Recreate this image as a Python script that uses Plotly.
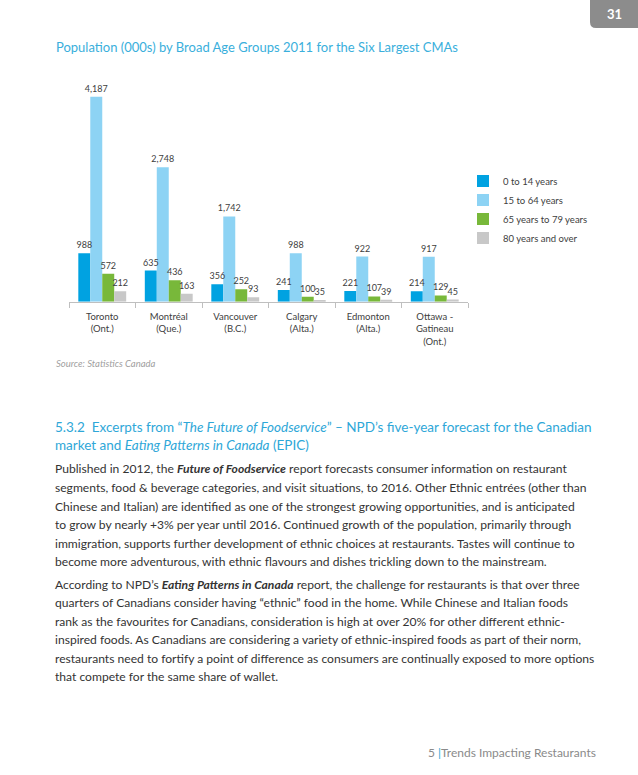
import plotly.graph_objects as go

W, H = 638, 775

categories = ["Toronto<br>(Ont.)", "Montréal<br>(Que.)", "Vancouver<br>(B.C.)",
              "Calgary<br>(Alta.)", "Edmonton<br>(Alta.)", "Ottawa -<br>Gatineau<br>(Ont.)"]
series_names = ["0 to 14 years", "15 to 64 years", "65 years to 79 years", "80 years and over"]
age_0_14 = [988, 635, 356, 241, 221, 214]
age_15_64 = [4187, 2748, 1742, 988, 922, 917]
age_65_79 = [572, 436, 252, 100, 107, 129]
age_80_plus = [212, 163, 93, 35, 39, 45]
series_values = [age_0_14, age_15_64, age_65_79, age_80_plus]
series_colors = ["#00A2E1", "#8DD3F4", "#78B83A", "#C8C8C8"]

title_text = "Population (000s) by Broad Age Groups 2011 for the Six Largest CMAs"
source_text = "Source: Statistics Canada"
heading_lines = [
    "5.3.2  Excerpts from “<i>The Future of Foodservice</i>” – NPD’s five-year forecast for the Canadian",
    "market and <i>Eating Patterns in Canada</i> (EPIC)",
]
body_lines = [
    "Published in 2012, the <b><i>Future of Foodservice</i></b> report forecasts consumer information on restaurant",
    "segments, food &amp; beverage categories, and visit situations, to 2016. Other Ethnic entrées (other than",
    "Chinese and Italian) are identified as one of the strongest growing opportunities, and is anticipated",
    "to grow by nearly +3% per year until 2016. Continued growth of the population, primarily through",
    "immigration, supports further development of ethnic choices at restaurants. Tastes will continue to",
    "become more adventurous, with ethnic flavours and dishes trickling down to the mainstream.",
    "According to NPD’s <b><i>Eating Patterns in Canada</i></b> report, the challenge for restaurants is that over three",
    "quarters of Canadians consider having “ethnic” food in the home. While Chinese and Italian foods",
    "rank as the favourites for Canadians, consideration is high at over 20% for other different ethnic-",
    "inspired foods. As Canadians are considering a variety of ethnic-inspired foods as part of their norm,",
    "restaurants need to fortify a point of difference as consumers are continually exposed to more options",
    "that compete for the same share of wallet.",
]
body_y = [469, 487.5, 506, 524.5, 543, 561.5, 584, 602.5, 621, 639.5, 658, 676.5]

FONT = "Lato"


def px(x):
    return x / W


def py(y):
    return 1 - y / H


fig = go.Figure()
# visible bars
for i, (name, vals, col) in enumerate(zip(series_names, series_values, series_colors)):
    fig.add_trace(go.Bar(
        name=name, x=categories, y=vals, marker_color=col, marker_line_width=0,
        offsetgroup=str(i), hovertemplate="%{x}<br>" + name + ": %{y:,}<extra></extra>",
    ))
# value labels drawn on top of all bars (same slots, transparent fill)
for i, vals in enumerate(series_values):
    fig.add_trace(go.Bar(
        x=categories, y=vals, marker_color="rgba(0,0,0,0)", marker_line_width=0,
        offsetgroup=str(i), showlegend=False, hoverinfo="skip",
        texttemplate="%{y:,}", textposition="outside", constraintext="none",
        textfont=dict(family=FONT, size=9, color="#404040"), cliponaxis=False,
    ))

annotations = []
annotations.append(dict(text=title_text, x=px(54), y=py(47), xref="paper", yref="paper",
                        xanchor="left", yanchor="middle", showarrow=False,
                        font=dict(family=FONT, size=13, color="#3AAFDC")))
annotations.append(dict(text=source_text, x=px(54), y=py(363), xref="paper", yref="paper",
                        xanchor="left", yanchor="middle", showarrow=False,
                        font=dict(family=FONT, size=9.5, color="#A0A0A0", style="italic")))
for t, yy in zip(heading_lines, [427, 445]):
    annotations.append(dict(text=t, x=px(53), y=py(yy), xref="paper", yref="paper",
                            xanchor="left", yanchor="middle", showarrow=False,
                            font=dict(family=FONT, size=13.5, color="#2EA7D8")))
for t, yy in zip(body_lines, body_y):
    annotations.append(dict(text=t, x=px(53), y=py(yy), xref="paper", yref="paper",
                            xanchor="left", yanchor="middle", showarrow=False,
                            font=dict(family=FONT, size=12.1, color="#333333")))
annotations.append(dict(text="<b>31</b>", x=px(614), y=py(14), xref="paper", yref="paper",
                        xanchor="center", yanchor="middle", showarrow=False,
                        font=dict(family=FONT, size=13, color="#FFFFFF")))
annotations.append(dict(text="5 <span style='color:#2EA7D8'>|</span>Trends Impacting Restaurants",
                        x=px(598), y=py(752), xref="paper", yref="paper",
                        xanchor="right", yanchor="middle", showarrow=False,
                        font=dict(family=FONT, size=12, color="#8A8A8A")))

x0, x1, y1 = 590, 640, 28
r = 6
tab_path = (f"M {px(x0)},{py(-2)} L {px(x0)},{py(y1 - r)} Q {px(x0)},{py(y1)} {px(x0 + r)},{py(y1)} "
            f"L {px(x1)},{py(y1)} L {px(x1)},{py(-2)} Z")

fig.update_layout(
    width=W, height=H,
    margin=dict(l=0, r=0, t=0, b=0),
    paper_bgcolor="white", plot_bgcolor="white",
    barmode="group", bargap=0.28, bargroupgap=0,
    font=dict(family=FONT, color="#404040"),
    xaxis=dict(domain=[px(69), px(468)], showline=True, linecolor="#BFBFBF", linewidth=1,
               ticks="outside", tickson="boundaries", ticklen=5, tickcolor="#BFBFBF",
               ticklabelstandoff=6,
               tickfont=dict(family=FONT, size=9.5, color="#404040"), showgrid=False,
               fixedrange=True),
    yaxis=dict(domain=[py(301.7), py(76.5)], range=[0, 4600], visible=False, fixedrange=True),
    legend=dict(x=px(463), y=py(166.5), xanchor="left", yanchor="top",
                font=dict(family=FONT, size=9.5, color="#404040"),
                bgcolor="rgba(0,0,0,0)", itemclick=False, itemdoubleclick=False),
    annotations=annotations,
    shapes=[dict(type="path", path=tab_path, xref="paper", yref="paper",
                 fillcolor="#8C8C8C", line=dict(width=0), layer="below")],
    showlegend=True,
)

fig.write_html("out.html", config={"displayModeBar": False},
               post_script="document.body.style.margin='0';document.body.style.overflow='hidden';")
